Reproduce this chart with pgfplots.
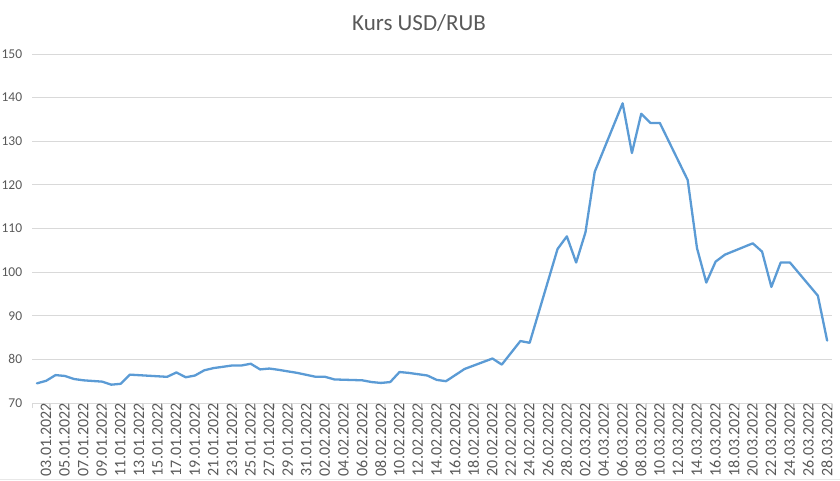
\documentclass[border=0pt]{standalone}
\usepackage{pgfplots}
\pgfplotsset{compat=1.18}
\usepackage{fontspec}
\setmainfont{Carlito}

\definecolor{xlblue}{HTML}{5B9BD5}
\definecolor{xlgrid}{HTML}{D9D9D9}
\definecolor{xltext}{HTML}{595959}

% USD/RUB, day index 0 = 03.01.2022
\pgfplotstableread{
day rate
0  74.5
1  75.1
2  76.4
3  76.2
4  75.5
5  75.2
7  74.9
8  74.2
9  74.4
10 76.5
14 76.0
15 77.0
16 75.9
17 76.3
18 77.5
19 78.0
21 78.6
22 78.6
23 79.0
24 77.7
25 77.9
26 77.6
28 76.9
30 76.0
31 76.0
32 75.4
35 75.2
36 74.8
37 74.6
38 74.8
39 77.1
40 76.9
42 76.3
43 75.3
44 75.0
46 77.8
49 80.2
50 78.8
52 84.2
53 83.8
56 105.3
57 108.2
58 102.2
59 109.1
60 123.0
63 138.7
64 127.3
65 136.3
66 134.2
67 134.2
70 121.1
71 105.5
72 97.6
73 102.4
74 104.0
77 106.6
78 104.7
79 96.6
80 102.2
81 102.2
84 94.6
85 84.3
}\usdrub

\begin{document}
\begin{tikzpicture}
\useasboundingbox (0,0) rectangle (840pt,480pt);
\draw[xlgrid!60, line width=0.6pt] (0,0.3pt) -- (840pt,0.3pt);
\node[text=xltext, font=\fontsize{23}{26}\selectfont] at (419pt,457pt) {Kurs USD/RUB};
\begin{axis}[
    at={(32.3pt,77pt)}, anchor=south west,
    scale only axis,
    width=799.5pt, height=349pt,
    xmin=-0.5, xmax=85.5,
    ymin=70, ymax=150,
    ytick={70,80,...,150},
    xtick={0,2,...,84},
    xticklabels={03.01.2022,05.01.2022,07.01.2022,09.01.2022,11.01.2022,13.01.2022,15.01.2022,17.01.2022,19.01.2022,21.01.2022,23.01.2022,25.01.2022,27.01.2022,29.01.2022,31.01.2022,02.02.2022,04.02.2022,06.02.2022,08.02.2022,10.02.2022,12.02.2022,14.02.2022,16.02.2022,18.02.2022,20.02.2022,22.02.2022,24.02.2022,26.02.2022,28.02.2022,02.03.2022,04.03.2022,06.03.2022,08.03.2022,10.03.2022,12.03.2022,14.03.2022,16.03.2022,18.03.2022,20.03.2022,22.03.2022,24.03.2022,26.03.2022,28.03.2022},
    extra x ticks={-0.5,1.5,...,85.5},
    extra x tick labels={},
    extra x tick style={major tick length=5pt, tick align=outside,
        major tick style={xlgrid, line width=0.8pt}, grid=none},
    major tick length=0pt,
    axis x line*=bottom,
    axis y line*=left,
    x axis line style={xlgrid, line width=0.8pt, -},
    y axis line style={draw=none},
    ymajorgrids,
    grid style={xlgrid, line width=0.8pt},
    /pgf/number format/assume math mode=true,
    xticklabel style={font=\fontsize{16}{18}\selectfont, text=xltext, rotate=90, anchor=east, inner sep=0pt, yshift=-9pt},
    yticklabel style={font=\fontsize{13.5}{15}\selectfont, text=xltext, anchor=east, inner sep=0pt, xshift=-10pt},
    clip=false,
]
\addplot[xlblue, line width=2.3pt, line join=round, line cap=round] table[x=day, y=rate] {\usdrub};
\end{axis}
\end{tikzpicture}
\end{document}
